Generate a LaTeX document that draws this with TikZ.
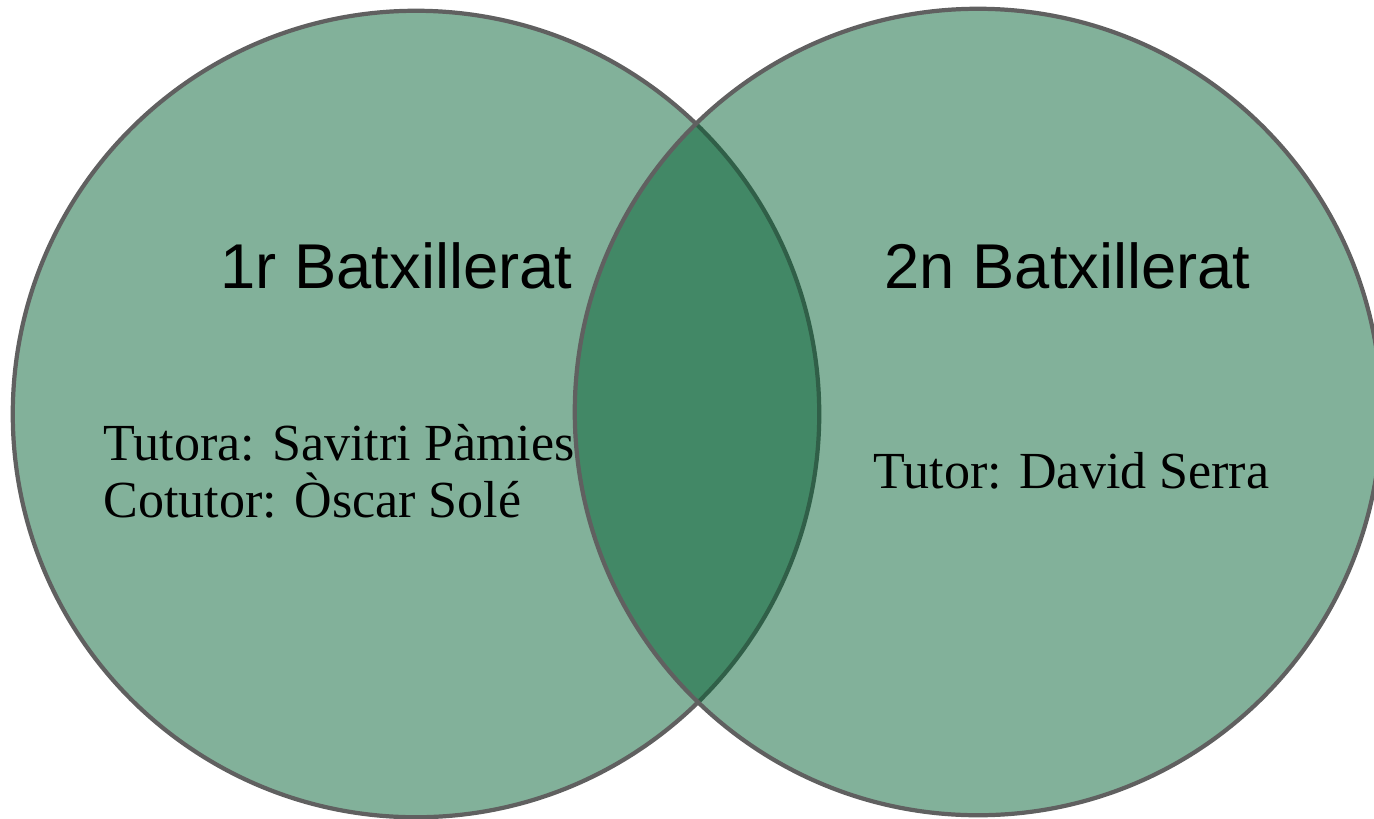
\documentclass[tikz,border=0pt]{standalone}
\usepackage{fontspec}
\setmainfont{Liberation Serif}
\setsansfont{Liberation Sans}
\usetikzlibrary{positioning}
\definecolor{setgreen}{RGB}{0,95,48}
\definecolor{setborder}{RGB}{96,96,96}
\tikzset{
	set/.style={circle, draw=setborder, line width=1.2pt, fill=setgreen,
		fill opacity=0.49, text opacity=1, minimum size=8.06cm, inner sep=0pt},
	title/.style={font=\sffamily\fontsize{18}{21.6}\selectfont, inner sep=0pt, anchor=base west},
	names/.style={font=\fontsize{14.8}{16}\selectfont, inner sep=0pt, align=left, anchor=base west}
}

\begin{document}
\begin{tikzpicture}[x=0.01cm, y=-0.01cm]
	\useasboundingbox (0,0) rectangle (1374,818);
	\node[set] (first) at (416,414) {};
	\node[set] (second) at (978,412) {};

	\node[title] (t1) at (220,288) {1r Batxillerat};
	\node[title] (t2) at (884,288) {2n Batxillerat};

	\node[names] (n1) at (103,517) {Tutora: Savitri Pàmies\\Cotutor: Òscar Solé};
	\node[names] (n2) at (873,488) {Tutor: David Serra};
\end{tikzpicture}
\end{document}
